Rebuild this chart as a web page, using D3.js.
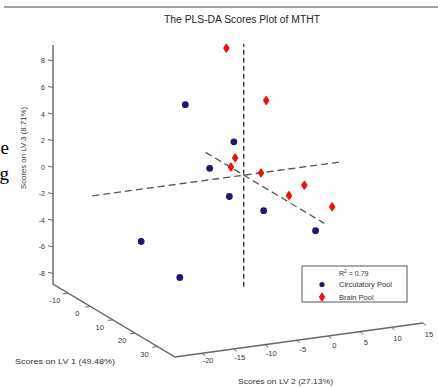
<!DOCTYPE html>
<html>
<head>
<meta charset="utf-8">
<script src="https://cdn.jsdelivr.net/npm/d3@7"></script>
<style>
  body { margin: 0; background: #fff; }
  svg { display: block; }
  text { font-family: "Liberation Sans", Arial, sans-serif; }
</style>
</head>
<body>
<div class="container"></div>
<script>
// PLS-DA scores plot (3D view, projected)

const w = 438, h = 387;

// axis limits and ticks
const lv1Domain = [-16.7, 37.8];
const lv2Domain = [-24.3, 15];
const lv3Domain = [-8.8, 9.2];
const lv1Ticks = [-10, 0, 10, 20, 30];
const lv2Ticks = [-20, -15, -10, -5, 0, 5, 10, 15];
const lv3Ticks = [8, 6, 4, 2, 0, -2, -4, -6, -8];

// scores [LV1, LV2, LV3]
const circulatory = [
  [10, -12.8, 6.65],
  [8, -4.4, 3.1],
  [12, -9.65, 1.85],
  [15, -7.6, -0.1],
  [14, -1.8, -1.65],
  [18, 5.0, -3.2],
  [10, -19.8, -3.2],
  [25, -19.0, -4.45]
];
const brain = [
  [-10, 0.8, 8.0],
  [-8, 6.4, 3.9],
  [-12, 2.9, -0.6],
  [-6, 0.1, -0.5],
  [-14, 7.7, -2.25],
  [-9, 12.8, -3.0],
  [-4, 8.6, -3.0],
  [4, 12.6, -3.3]
];

// dashed reference lines through the centre
const refCenter = [0, 0, -0.5];
const ref1 = [-17, 36];
const ref2 = [-24, 15.7];
const ref3 = [-8.9, 9.4];

// projection: box corner + fraction along each axis vector
const corner = [53, 284];
const v1 = [122, 73];
const v2 = [248, -34];
const v3 = [0, -239];

const s1 = d3.scaleLinear().domain(lv1Domain).range([0, 1]);
const s2 = d3.scaleLinear().domain(lv2Domain).range([0, 1]);
const s3 = d3.scaleLinear().domain(lv3Domain).range([0, 1]);

project = (p) => {
  const a = s1(p[0]), b = s2(p[1]), c = s3(p[2]);
  return [corner[0] + a * v1[0] + b * v2[0] + c * v3[0],
          corner[1] + a * v1[1] + b * v2[1] + c * v3[1]];
};

const svg = d3.select(".container").append("svg")
  .attr("width", w).attr("height", h);

// top rule from the page the figure was cut from
svg.append("line")
  .attr("x1", 4).attr("x2", w).attr("y1", 7).attr("y2", 7)
  .attr("stroke", "#808080").attr("stroke-width", 1.6);

// clipped body text at the left edge
svg.append("text").attr("x", 9).attr("y", 154).attr("text-anchor", "end")
  .style("font-family", "Liberation Serif").attr("font-size", 19).text("e");
svg.append("text").attr("x", 9).attr("y", 180).attr("text-anchor", "end")
  .style("font-family", "Liberation Serif").attr("font-size", 19).text("g");

svg.append("text")
  .attr("x", 242).attr("y", 23).attr("text-anchor", "middle")
  .attr("font-size", 10).attr("fill", "#222")
  .attr("textLength", 156).attr("lengthAdjust", "spacingAndGlyphs")
  .text("The PLS-DA Scores Plot of MTHT");

const axisColor = "#666";
const labelColor = "#333";
const line = d3.line();

// box axes
const lo1 = lv1Domain[0], hi1 = lv1Domain[1];
const lo2 = lv2Domain[0], hi2 = lv2Domain[1];
const lo3 = lv3Domain[0], hi3 = lv3Domain[1];

svg.append("path")
  .attr("d", line([
    project([lo1, lo2, hi3]),
    project([lo1, lo2, lo3]),
    project([hi1, lo2, lo3]),
    project([hi1, hi2, lo3])
  ]))
  .attr("fill", "none").attr("stroke", axisColor).attr("stroke-width", 1.4);

// LV3 ticks
lv3Ticks.forEach((t) => {
  const p = project([lo1, lo2, t]);
  svg.append("path").attr("d", line([[p[0] - 5, p[1] - 1], p]))
    .attr("stroke", axisColor).attr("stroke-width", 1);
  svg.append("text").attr("x", p[0] - 8).attr("y", p[1] + 2.5)
    .attr("text-anchor", "end").attr("font-size", 7).attr("fill", labelColor)
    .text(t);
});

// LV1 ticks
lv1Ticks.forEach((t) => {
  const p = project([t, lo2, lo3]);
  svg.append("path").attr("d", line([[p[0] - 5, p[1] + 0.7], p]))
    .attr("stroke", axisColor).attr("stroke-width", 1);
  svg.append("text").attr("x", p[0] - 13).attr("y", p[1] + 10)
    .attr("text-anchor", "middle").attr("font-size", 7.5).attr("fill", labelColor)
    .text(t);
});

// LV2 ticks
lv2Ticks.forEach((t, i) => {
  const p = project([hi1, t, lo3]);
  svg.append("path").attr("d", line([p, [p[0] + 3, p[1] + 2.5]]))
    .attr("stroke", axisColor).attr("stroke-width", 1);
  svg.append("text").attr("x", p[0] + 6).attr("y", p[1] + 10 + i * 0.6)
    .attr("text-anchor", "middle").attr("font-size", 7.5).attr("fill", labelColor)
    .text(t);
});

// axis titles
svg.append("text")
  .attr("transform", `translate(26, 148) rotate(-90)`)
  .attr("text-anchor", "middle").attr("font-size", 7).attr("fill", labelColor)
  .attr("textLength", 82).attr("lengthAdjust", "spacingAndGlyphs")
  .text("Scores on LV 3 (8.71%)");
svg.append("text").attr("x", 15).attr("y", 364)
  .attr("font-size", 7.5).attr("fill", labelColor)
  .attr("textLength", 100).attr("lengthAdjust", "spacingAndGlyphs")
  .text("Scores on LV 1 (49.48%)");
svg.append("text").attr("x", 238).attr("y", 384)
  .attr("font-size", 7.5).attr("fill", labelColor)
  .attr("textLength", 95).attr("lengthAdjust", "spacingAndGlyphs")
  .text("Scores on LV 2 (27.13%)");

// dashed reference lines
const c = refCenter;
[
  [[ref1[0], c[1], c[2]], [ref1[1], c[1], c[2]]],
  [[c[0], ref2[0], c[2]], [c[0], ref2[1], c[2]]],
  [[c[0], c[1], ref3[0]], [c[0], c[1], ref3[1]]]
].forEach((seg, i) => {
  svg.append("path")
    .attr("d", line(seg.map(project)))
    .attr("fill", "none")
    .attr("stroke", i == 2 ? "#333" : "#555")
    .attr("stroke-width", 1.3)
    .attr("stroke-dasharray", i == 2 ? "5,3" : "7,4");
});

const blue = "#1b1b6b";
const red = "#ee1111";
const diamond = "M0,-3.8L2.5,0L0,3.8L-2.5,0Z";

svg.selectAll("circle.circ")
  .data(circulatory)
  .join("circle")
  .attr("class", "circ")
  .attr("cx", (d) => project(d)[0])
  .attr("cy", (d) => project(d)[1])
  .attr("r", 3.4)
  .attr("fill", blue);

svg.selectAll("path.brain")
  .data(brain)
  .join("path")
  .attr("class", "brain")
  .attr("d", diamond)
  .attr("transform", (d) => `translate(${project(d)[0]},${project(d)[1]})`)
  .attr("fill", red).attr("stroke", red)
  .attr("stroke-width", 1.4).attr("stroke-linejoin", "round");

// legend
const lg = svg.append("g").attr("transform", "translate(302,266)");
lg.append("rect").attr("width", 105).attr("height", 36)
  .attr("fill", "#fff").attr("stroke", "#555").attr("stroke-width", 1);
lg.append("text").attr("x", 37).attr("y", 9.5).attr("font-size", 7).attr("fill", labelColor)
  .html("R<tspan dy='-3' font-size='5'>2</tspan><tspan dy='3'> = 0.79</tspan>");
lg.append("circle").attr("cx", 20).attr("cy", 18.5).attr("r", 2.6).attr("fill", blue);
lg.append("text").attr("x", 37).attr("y", 21).attr("font-size", 7.5).attr("fill", labelColor)
  .text("Circulatory Pool");
lg.append("path").attr("d", diamond)
  .attr("transform", "translate(20,31)")
  .attr("fill", red).attr("stroke", red).attr("stroke-width", 1.2).attr("stroke-linejoin", "round");
lg.append("text").attr("x", 37).attr("y", 33.5).attr("font-size", 7.5).attr("fill", labelColor)
  .text("Brain Pool");
</script>
</body>
</html>
